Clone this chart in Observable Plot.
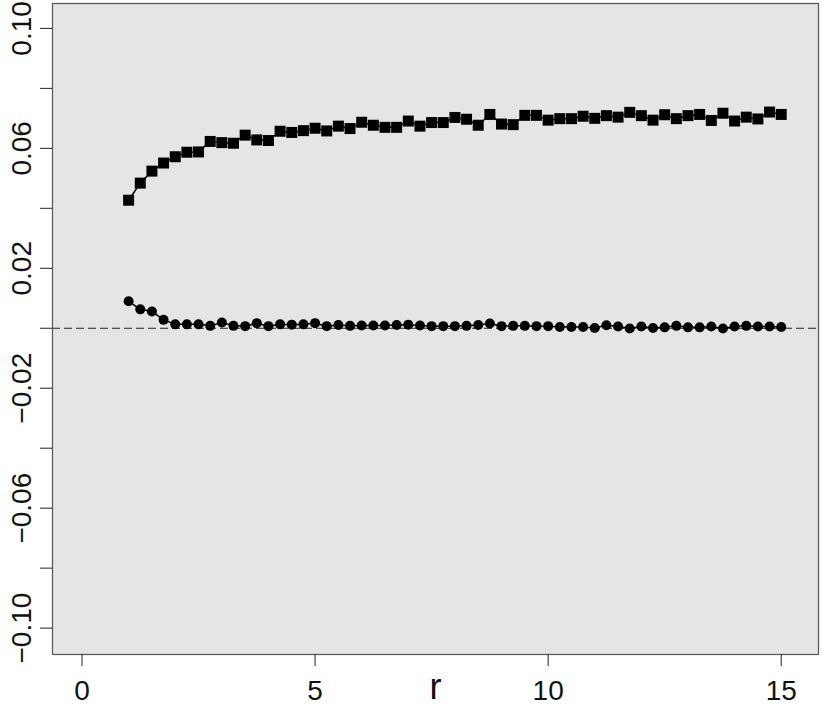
<!DOCTYPE html>
<html>
<head>
<meta charset="utf-8">
<script src="https://cdn.jsdelivr.net/npm/d3@7"></script>
<script src="https://cdn.jsdelivr.net/npm/@observablehq/plot@0.6"></script>
<style>
  html, body { margin: 0; padding: 0; background: #ffffff; }
  #chart { width: 830px; height: 706px; }
</style>
</head>
<body>
<div id="chart"></div>
<script>
// r values (x)
const rValues = [1, 1.25, 1.5, 1.75, 2, 2.25, 2.5, 2.75, 3, 3.25, 3.5, 3.75, 4, 4.25, 4.5, 4.75,
  5, 5.25, 5.5, 5.75, 6, 6.25, 6.5, 6.75, 7, 7.25, 7.5, 7.75, 8, 8.25, 8.5, 8.75,
  9, 9.25, 9.5, 9.75, 10, 10.25, 10.5, 10.75, 11, 11.25, 11.5, 11.75, 12, 12.25, 12.5, 12.75,
  13, 13.25, 13.5, 13.75, 14, 14.25, 14.5, 14.75, 15];

// square-marker series
const squareSeries = [0.0427, 0.0484, 0.0524, 0.0551, 0.0572, 0.0587, 0.0588, 0.0623, 0.0619, 0.0617,
  0.0644, 0.0628, 0.0626, 0.0657, 0.0653, 0.0659, 0.0667, 0.0658, 0.0674, 0.0666,
  0.0687, 0.0677, 0.0670, 0.0670, 0.0691, 0.0674, 0.0686, 0.0686, 0.0703, 0.0697,
  0.0677, 0.0713, 0.0681, 0.0679, 0.0710, 0.0710, 0.0694, 0.0699, 0.0699, 0.0707,
  0.0700, 0.0709, 0.0704, 0.0720, 0.0709, 0.0694, 0.0712, 0.0699, 0.0709, 0.0713,
  0.0693, 0.0717, 0.0691, 0.0704, 0.0698, 0.0721, 0.0713];

// circle-marker series
const circleSeries = [0.0090, 0.0063, 0.0056, 0.0028, 0.0013, 0.0013, 0.0013, 0.0008, 0.0019, 0.0008,
  0.0007, 0.0017, 0.0007, 0.0013, 0.0012, 0.0013, 0.0017, 0.0007, 0.0011, 0.0008,
  0.0009, 0.0009, 0.0009, 0.0011, 0.0012, 0.0009, 0.0007, 0.0007, 0.0007, 0.0008,
  0.0011, 0.0016, 0.0007, 0.0008, 0.0008, 0.0007, 0.0007, 0.0004, 0.0004, 0.0004,
  0.0001, 0.0010, 0.0006, -0.0001, 0.0006, 0.0001, 0.0003, 0.0008, 0.0003, 0.0003,
  0.0006, -0.0001, 0.0006, 0.0008, 0.0006, 0.0006, 0.0004];

const xTicks = [0, 5, 10, 15];
const yTicks = [-0.10, -0.08, -0.06, -0.04, -0.02, 0, 0.02, 0.04, 0.06, 0.08, 0.10];
const yLabelTicks = [-0.10, -0.06, -0.02, 0.02, 0.06, 0.10];
const refLine = [0];
const xLabel = "r";

const squares = rValues.map((r, i) => ({r, v: squareSeries[i]}));
const circles = rValues.map((r, i) => ({r, v: circleSeries[i]}));
const fmt = d3.format(".2f");
const FONT = "'Liberation Sans Narrow', 'Arial Narrow', 'Liberation Sans', Arial, sans-serif";

const chart = Plot.plot({
  width: 830,
  height: 706,
  marginLeft: 52,
  marginRight: 12,
  marginTop: 3,
  marginBottom: 52,
  style: {fontFamily: FONT, background: "#ffffff"},
  x: {domain: [-0.633, 15.8]},
  y: {domain: [-0.1088, 0.1083]},
  marks: [
    Plot.frame({fill: "#e5e5e5", stroke: null}),
    Plot.ruleY(refLine, {stroke: "#222", strokeWidth: 1.2, strokeDasharray: "8,4"}),
    Plot.line(squares, {x: "r", y: "v", stroke: "black", strokeWidth: 1.5}),
    Plot.dot(squares, {x: "r", y: "v", symbol: "square", r: 6.2, fill: "black", stroke: "none"}),
    Plot.line(circles, {x: "r", y: "v", stroke: "black", strokeWidth: 1.5}),
    Plot.dot(circles, {x: "r", y: "v", symbol: "circle", r: 5, fill: "black", stroke: "none"}),
    Plot.frame({stroke: "#555", strokeWidth: 1.2}),
    Plot.axisX({ticks: xTicks, tickSize: 12, tickPadding: 14, fontSize: 28, label: null, tickFormat: d => String(d), stroke: "#222", color: "#111"}),
    Plot.axisY({ticks: yTicks, tickSize: 12, label: null, tickFormat: () => "", stroke: "#222"}),
    Plot.text(yLabelTicks, {y: d => d, text: d => fmt(d), frameAnchor: "left", dx: -22, rotate: -90,
      textAnchor: "middle", lineAnchor: "bottom", fontSize: 28, fill: "#111"}),
    Plot.text([xLabel], {text: d => d, frameAnchor: "bottom", dy: 44, lineAnchor: "bottom", fontSize: 36, fill: "#111"})
  ]
});
document.getElementById("chart").appendChild(chart);
</script>
</body>
</html>
